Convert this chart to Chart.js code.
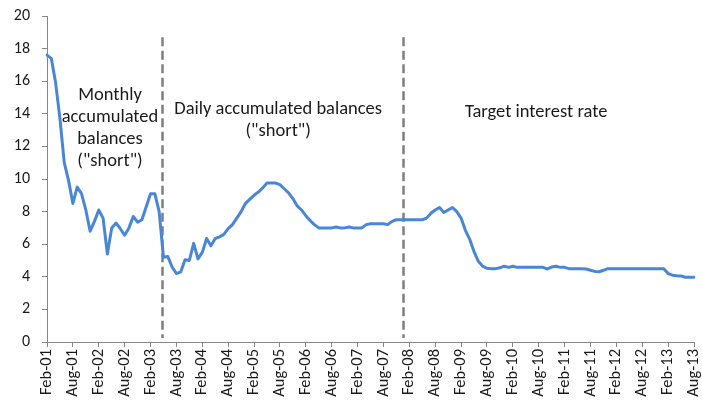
<!DOCTYPE html>
<html>
<head>
<meta charset="utf-8">
<script src="https://cdn.jsdelivr.net/npm/chart.js@4"></script>
<style>
  html, body { margin: 0; padding: 0; background: #ffffff; }
  #wrap { width: 702px; height: 400px; }
</style>
</head>
<body>
<div id="wrap"><canvas id="c" width="702" height="400"></canvas></div>
<script>
// ---- Data ----
const monthNames = ["Jan","Feb","Mar","Apr","May","Jun","Jul","Aug","Sep","Oct","Nov","Dec"];
const startYear = 2001, startMonth = 1, monthCount = 151; // Feb-01 .. Aug-13
const categories = [];
for (let k = 0; k < monthCount; k++) {
  const m = (startMonth + k) % 12;
  const y = startYear + Math.floor((startMonth + k) / 12);
  categories.push(monthNames[m] + "-" + String(y % 100).padStart(2, "0"));
}
const tickLabels = ["Feb-01","Aug-01","Feb-02","Aug-02","Feb-03","Aug-03","Feb-04","Aug-04",
  "Feb-05","Aug-05","Feb-06","Aug-06","Feb-07","Aug-07","Feb-08","Aug-08","Feb-09","Aug-09",
  "Feb-10","Aug-10","Feb-11","Aug-11","Feb-12","Aug-12","Feb-13","Aug-13"];
const rateValues = [
  17.6, 17.4, 15.9, 13.7, 11.0, 9.9, 8.5, 9.5, 9.1, 8.1,
  6.8, 7.4, 8.1, 7.6, 5.4, 7.0, 7.3, 6.95, 6.55, 7.0,
  7.7, 7.35, 7.5, 8.3, 9.1, 9.1, 8.0, 5.2, 5.25, 4.6,
  4.2, 4.3, 5.05, 5.0, 6.05, 5.1, 5.5, 6.35, 5.9, 6.35,
  6.45, 6.6, 6.95, 7.2, 7.6, 8.0, 8.5, 8.75, 9.0, 9.2,
  9.45, 9.75, 9.75, 9.75, 9.65, 9.4, 9.15, 8.8, 8.35, 8.1,
  7.75, 7.45, 7.2, 7.0, 7.0, 7.0, 7.0, 7.05, 7.0, 7.0,
  7.05, 7.0, 7.0, 7.0, 7.2, 7.25, 7.25, 7.25, 7.25, 7.2,
  7.4, 7.5, 7.5, 7.5, 7.5, 7.5, 7.5, 7.5, 7.6, 7.9,
  8.1, 8.25, 7.95, 8.1, 8.25, 8.0, 7.6, 6.85, 6.3, 5.55,
  4.95, 4.65, 4.52, 4.5, 4.5, 4.55, 4.65, 4.58, 4.65, 4.58,
  4.58, 4.58, 4.58, 4.58, 4.58, 4.58, 4.48, 4.6, 4.65, 4.58,
  4.58, 4.5, 4.5, 4.5, 4.5, 4.48, 4.4, 4.33, 4.31, 4.4,
  4.5, 4.5, 4.5, 4.5, 4.5, 4.5, 4.5, 4.5, 4.5, 4.5,
  4.5, 4.5, 4.5, 4.5, 4.2, 4.1, 4.07, 4.05, 3.97, 3.97,
  3.97
];
const yTicks = [0, 2, 4, 6, 8, 10, 12, 14, 16, 18, 20];
// regime dividers (month index) and regime labels
const dividerAt = [26.7, 82.5];
const regimeLabels = [
  ["Monthly", "accumulated", "balances", "(\"short\")"],
  ["Daily accumulated balances", "(\"short\")"],
  ["Target interest rate"]
];

// ---- Styling / placement ----
const FONT = "Carlito, Calibri, Lato, 'Open Sans', sans-serif";
const TICK_STEP = 6;
const dividerSpan = [0.25, 18.7];
const regimeAnchorX = [14.6, 53.6, 113.4];
const regimeAnchorY = [15.15, 14.3, 14.1];
const LINE_H = 22;

const overlay = {
  id: 'overlay',
  beforeDatasetsDraw(chart) {
    const ctx = chart.ctx, xs = chart.scales.x, ys = chart.scales.y;
    ctx.save();
    ctx.strokeStyle = '#7f7f7f';
    ctx.lineWidth = 2.5;
    ctx.setLineDash([9, 4.5]);
    dividerAt.forEach(d => {
      const px = Math.round(xs.getPixelForValue(d)) + 0.5;
      ctx.beginPath();
      ctx.moveTo(px, ys.getPixelForValue(dividerSpan[1]));
      ctx.lineTo(px, ys.getPixelForValue(dividerSpan[0]));
      ctx.stroke();
    });
    ctx.restore();
  },
  afterDatasetsDraw(chart) {
    const ctx = chart.ctx, xs = chart.scales.x, ys = chart.scales.y;
    ctx.save();
    ctx.fillStyle = '#1a1a1a';
    ctx.font = '18.5px ' + FONT;
    ctx.textAlign = 'center';
    ctx.textBaseline = 'middle';
    regimeLabels.forEach((lines, k) => {
      const cx = xs.getPixelForValue(regimeAnchorX[k]);
      const cy = ys.getPixelForValue(regimeAnchorY[k]);
      lines.forEach((t, j) => ctx.fillText(t, cx, cy + j * LINE_H));
    });
    ctx.restore();
  }
};

new Chart(document.getElementById('c'), {
  type: 'line',
  data: {
    labels: categories,
    datasets: [{
      data: rateValues,
      borderColor: '#4A86D6',
      borderWidth: 3,
      pointRadius: 0,
      pointHoverRadius: 0,
      tension: 0,
      fill: false,
      borderJoinStyle: 'round',
      borderCapStyle: 'round'
    }]
  },
  options: {
    responsive: false,
    animation: false,
    devicePixelRatio: 1,
    layout: { padding: { top: 16, right: 8, left: 0, bottom: 0 } },
    plugins: { legend: { display: false }, tooltip: { enabled: false } },
    scales: {
      x: {
        type: 'category',
        offset: false,
        afterBuildTicks: s => { s.ticks = s.ticks.filter(t => t.value % TICK_STEP === 0); },
        afterFit: s => { s.height = 58; s.paddingLeft = 0; s.paddingRight = 0; },
        ticks: {
          autoSkip: false,
          maxRotation: 90,
          minRotation: 90,
          padding: 2,
          color: '#1a1a1a',
          font: { family: FONT, size: 16.5 },
          callback: (v, i) => tickLabels[Math.round(v / TICK_STEP)]
        },
        grid: { display: true, drawOnChartArea: false, drawTicks: true, tickLength: 5, color: '#868686', lineWidth: 1 },
        border: { display: true, color: '#868686', width: 1 }
      },
      y: {
        min: 0,
        max: 20,
        afterBuildTicks: s => { s.ticks = yTicks.map(v => ({ value: v })); },
        afterFit: s => { s.width = 47; s.paddingTop = 0; s.paddingBottom = 0; },
        ticks: {
          padding: 12,
          color: '#1a1a1a',
          font: { family: FONT, size: 16 }
        },
        grid: { display: true, drawOnChartArea: false, drawTicks: true, tickLength: 5, color: '#868686', lineWidth: 1 },
        border: { display: true, color: '#868686', width: 1 }
      }
    }
  },
  plugins: [overlay]
});
</script>
</body>
</html>
